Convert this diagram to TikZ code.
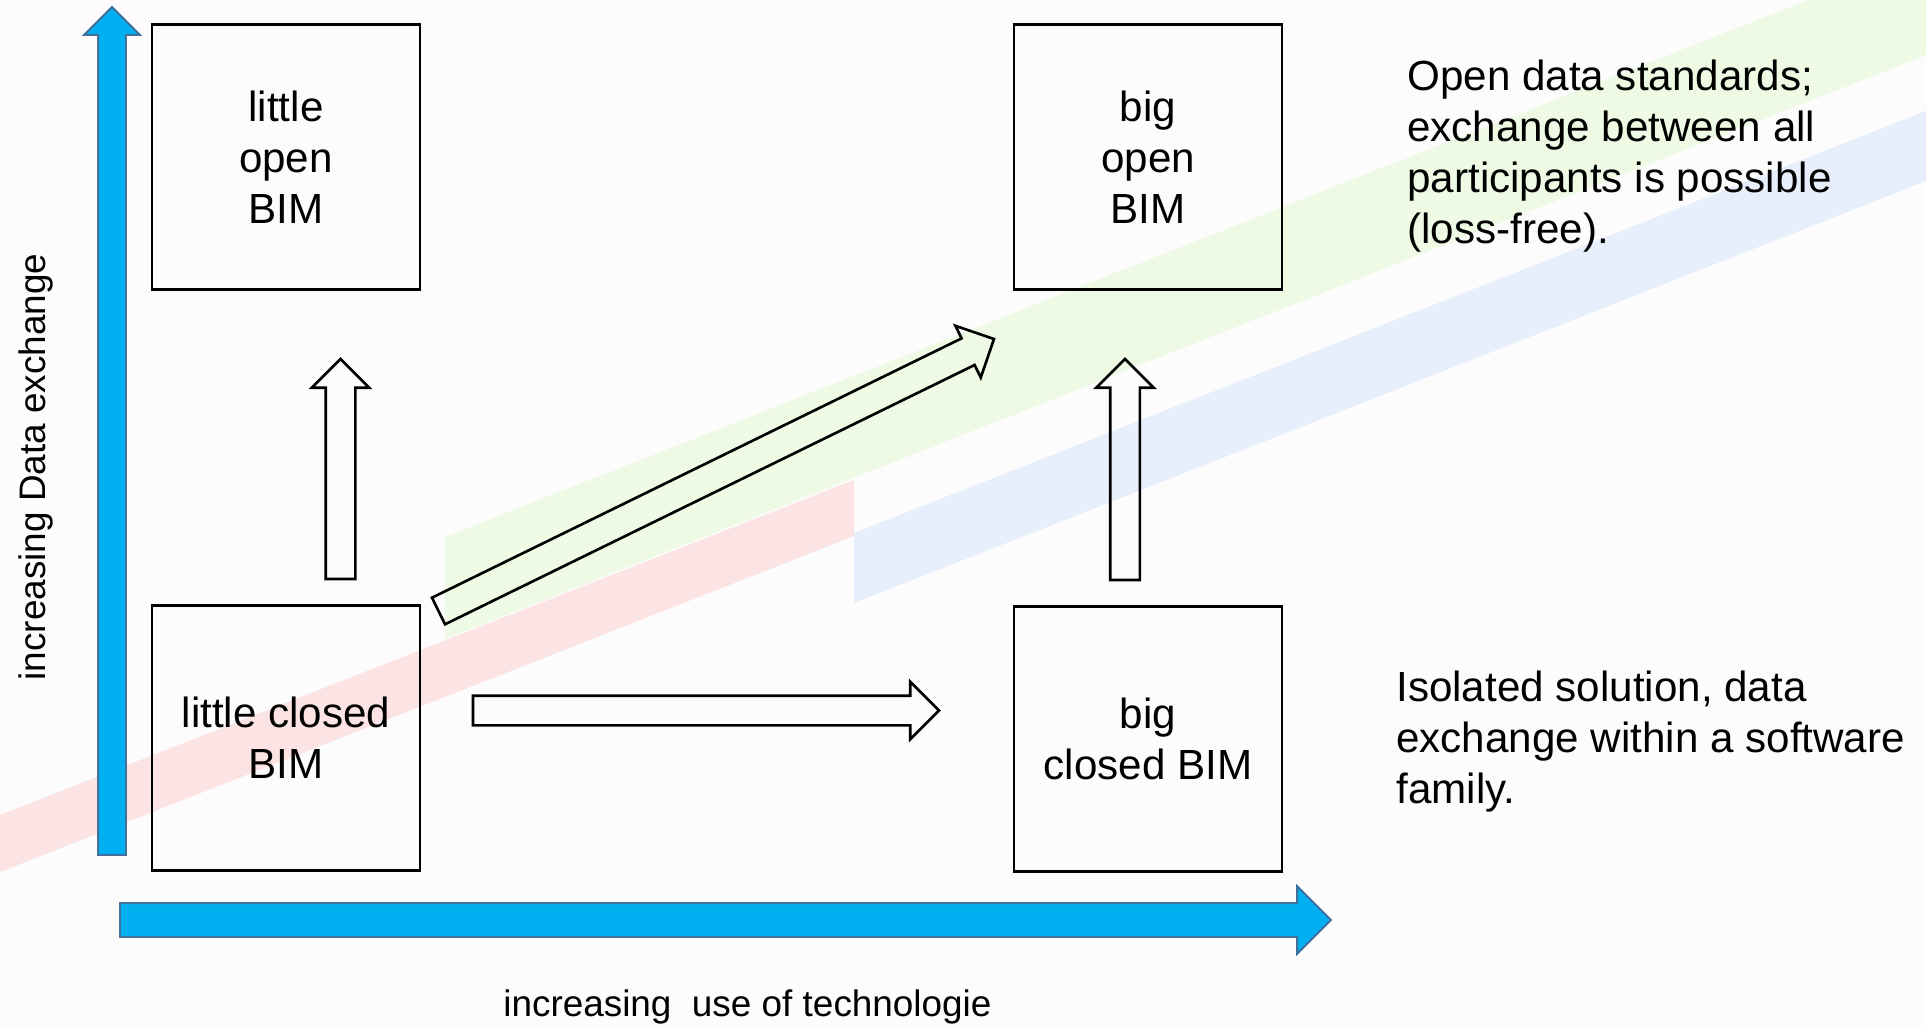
\documentclass[tikz,border=0pt]{standalone}
\usepackage{fontspec}
\setmainfont{Liberation Sans}
\usetikzlibrary{shapes.arrows,calc}

\definecolor{axisblue}{RGB}{0,176,240}
\definecolor{axisline}{RGB}{65,113,156}
\definecolor{bandred}{RGB}{252,228,228}
\definecolor{bandgreen}{RGB}{239,250,229}
\definecolor{bandblue}{RGB}{230,239,251}
\definecolor{paper}{RGB}{252,252,252}

\newlength\px
\setlength\px{0.02cm}
\newcommand\bimfont{\fontsize{24}{29}\selectfont}
\newcommand\axisfont{\fontsize{21}{25}\selectfont}

\tikzset{
  bimbox/.style={draw, line width=1.5pt, minimum width=268\px, minimum height=265\px,
    inner sep=0pt, align=center, font=\bimfont},
  hollow/.style={single arrow, draw, line width=1.5pt, inner xsep=0pt, inner ysep=13.5\px,
    single arrow head extend=14\px, outer sep=0pt},
  vaxis/.style={single arrow, draw=axisline, fill=axisblue, line width=1.1pt,
    inner xsep=0pt, inner ysep=13\px, single arrow head extend=14\px, outer sep=0pt},
  haxis/.style={vaxis, inner ysep=16\px, single arrow head extend=17\px},
  note/.style={align=left, anchor=base west, inner sep=0pt, font=\bimfont},
  axislabel/.style={inner sep=0pt, font=\axisfont},
}

\begin{document}
\begin{tikzpicture}[x=0.02cm, y=-0.02cm]
  \fill[paper] (0,0) rectangle (1926,1026);
  \useasboundingbox (0,0) rectangle (1926,1026);

  \fill[bandred] (0,815) -- (854,480) -- (854,536) -- (0,872) -- cycle;
  \fill[bandgreen] (445,537) -- (1808,0) -- (1926,0) -- (1926,55) -- (445,639) -- cycle;
  \fill[bandblue] (854,533) -- (1926,111) -- (1926,181) -- (854,603) -- cycle;

  \node[bimbox] (lopen) at (286,157) {little\\open\\BIM};
  \node[bimbox] (lclosed) at (286,738) {little closed\\BIM};
  \node[bimbox] (bopen) at (1148,157) {big\\open\\BIM};
  \node[bimbox] (bclosed) at (1148,739) {big\\closed BIM};

  \coordinate (vaxis0) at (112,855);   \coordinate (vaxis1) at (112,7);
  \coordinate (haxis0) at (120,920);   \coordinate (haxis1) at (1331,920);
  \coordinate (lup0) at (340.5,579);   \coordinate (lup1) at (340.5,359);
  \coordinate (rup0) at (1125,580);    \coordinate (rup1) at (1125,359);
  \coordinate (right0) at (473,710.5); \coordinate (right1) at (939,710.5);
  \coordinate (diag0) at (438.5,611);  \coordinate (diag1) at (994,339);

  \foreach \s/\t/\st in {vaxis0/vaxis1/vaxis, haxis0/haxis1/haxis, lup0/lup1/hollow,
      rup0/rup1/hollow, right0/right1/hollow, diag0/diag1/hollow}
    \path let \p1=(\s), \p2=(\t), \n1={veclen(\x2-\x1,\y2-\y1)}, \n2={atan2(\y2-\y1,\x2-\x1)} in
      node[\st, minimum height=\n1, rotate=\n2, anchor=tail] (\s-arrow) at (\s) {};

  \node[note] (opennote) at (1407,243.5)
    {Open data standards;\\exchange between all\\participants is possible\\(loss-free).};
  \node[note] (closednote) at (1396,803)
    {Isolated solution, data\\exchange within a software\\family.};
  \node[axislabel, anchor=base west] (xlabel) at (503,1016)
    {increasing\ \ use of technologie};
  \node[axislabel, rotate=90, anchor=base] (ylabel) at (45,467)
    {increasing Data exchange};
\end{tikzpicture}
\end{document}
